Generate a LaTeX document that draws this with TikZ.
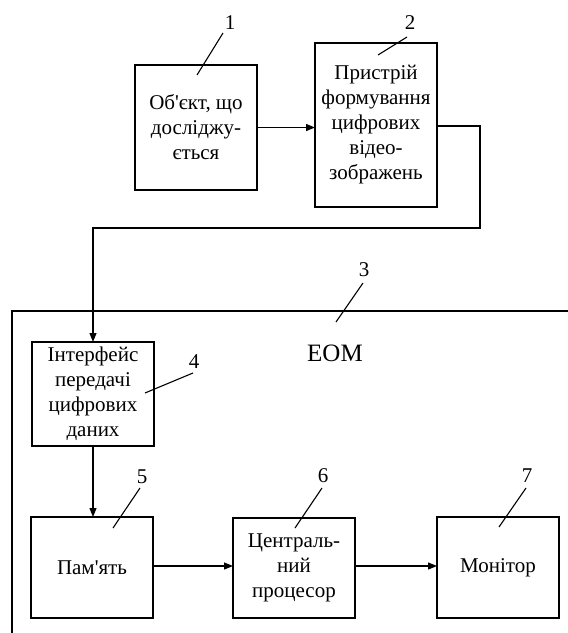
\documentclass[tikz,border=0pt]{standalone}
\usepackage{fontspec}
\setmainfont{Liberation Serif}
\usetikzlibrary{arrows.meta}
\begin{document}
\begin{tikzpicture}[x=1pt,y=-1pt,
  blk/.style={draw,line width=1.6pt,inner sep=0pt,outer sep=0pt,align=center,
    font=\fontsize{21}{25}\selectfont},
  conn/.style={line width=1.2pt,-{Triangle[length=9pt,width=7pt]}},
  wire/.style={line width=1.2pt},
  lead/.style={line width=1.1pt},
  num/.style={font=\fontsize{21}{25}\selectfont,inner sep=0pt}]
\useasboundingbox (0,0) rectangle (568,633);
% blocks
\node[blk,minimum width=122pt,minimum height=125pt] (b1) at (196,127.5)
  {Об\textquotesingle єкт, що\\досліджу-\\ється};
\node[blk,minimum width=122pt,minimum height=164pt] (b2) at (376,125)
  {Пристрій\\формування\\цифрових\\відео-\\зображень};
\node[blk,minimum width=122pt,minimum height=104pt] (b4) at (93,394)
  {Інтерфейс\\передачі\\цифрових\\даних};
\node[blk,minimum width=122pt,minimum height=101pt] (b5) at (92,567.5)
  {Пам\textquotesingle ять};
\node[blk,minimum width=122pt,minimum height=100pt] (b6) at (294,568)
  {Централь-\\ний\\процесор};
\node[blk,minimum width=122pt,minimum height=101pt] (b7) at (498,567.5)
  {Монітор};
% EOM enclosure (open)
\coordinate (eTR) at (568,311);
\coordinate (eTL) at (12,311);
\coordinate (eBL) at (12,633);
\draw[wire] (eTR) -- (eTL) -- (eBL);
\node[font=\fontsize{25}{30}\selectfont,inner sep=0pt] (eom) at (335,353) {ЕОМ};
% connectors
\draw[conn] (b1.east) -- (b1.east -| b2.west);
\coordinate (r1) at (480,126);
\coordinate (r2) at (480,228);
\coordinate (r3) at (93,228);
\draw[conn] (b2.east |- r1) -- (r1) -- (r2) -- (r3) -- (b4.north);
\draw[conn] (b4.south) -- (b4.south |- b5.north);
\draw[conn] (b5.east |- 0,566) -- (b6.west |- 0,566);
\draw[conn] (b6.east |- 0,566) -- (b7.west |- 0,566);
% numbers and leaders
\node[num] (n1) at (230,23) {1};
\node[num] (n2) at (410,23) {2};
\node[num] (n3) at (364,270) {3};
\node[num] (n4) at (194,362) {4};
\node[num] (n5) at (142,477) {5};
\node[num] (n6) at (323,476) {6};
\node[num] (n7) at (527,476) {7};
\coordinate (l1) at (197,75);
\coordinate (l2) at (378,55);
\coordinate (l3) at (336,322);
\coordinate (l4) at (145,393);
\coordinate (l5) at (113,528);
\coordinate (l6) at (295,528);
\coordinate (l7) at (499,527);
\draw[lead] (223,33) -- (l1);
\draw[lead] (407,37) -- (l2);
\draw[lead] (363,283) -- (l3);
\draw[lead] (193,373) -- (l4);
\draw[lead] (140,488) -- (l5);
\draw[lead] (322,488) -- (l6);
\draw[lead] (526,488) -- (l7);
\end{tikzpicture}
\end{document}
